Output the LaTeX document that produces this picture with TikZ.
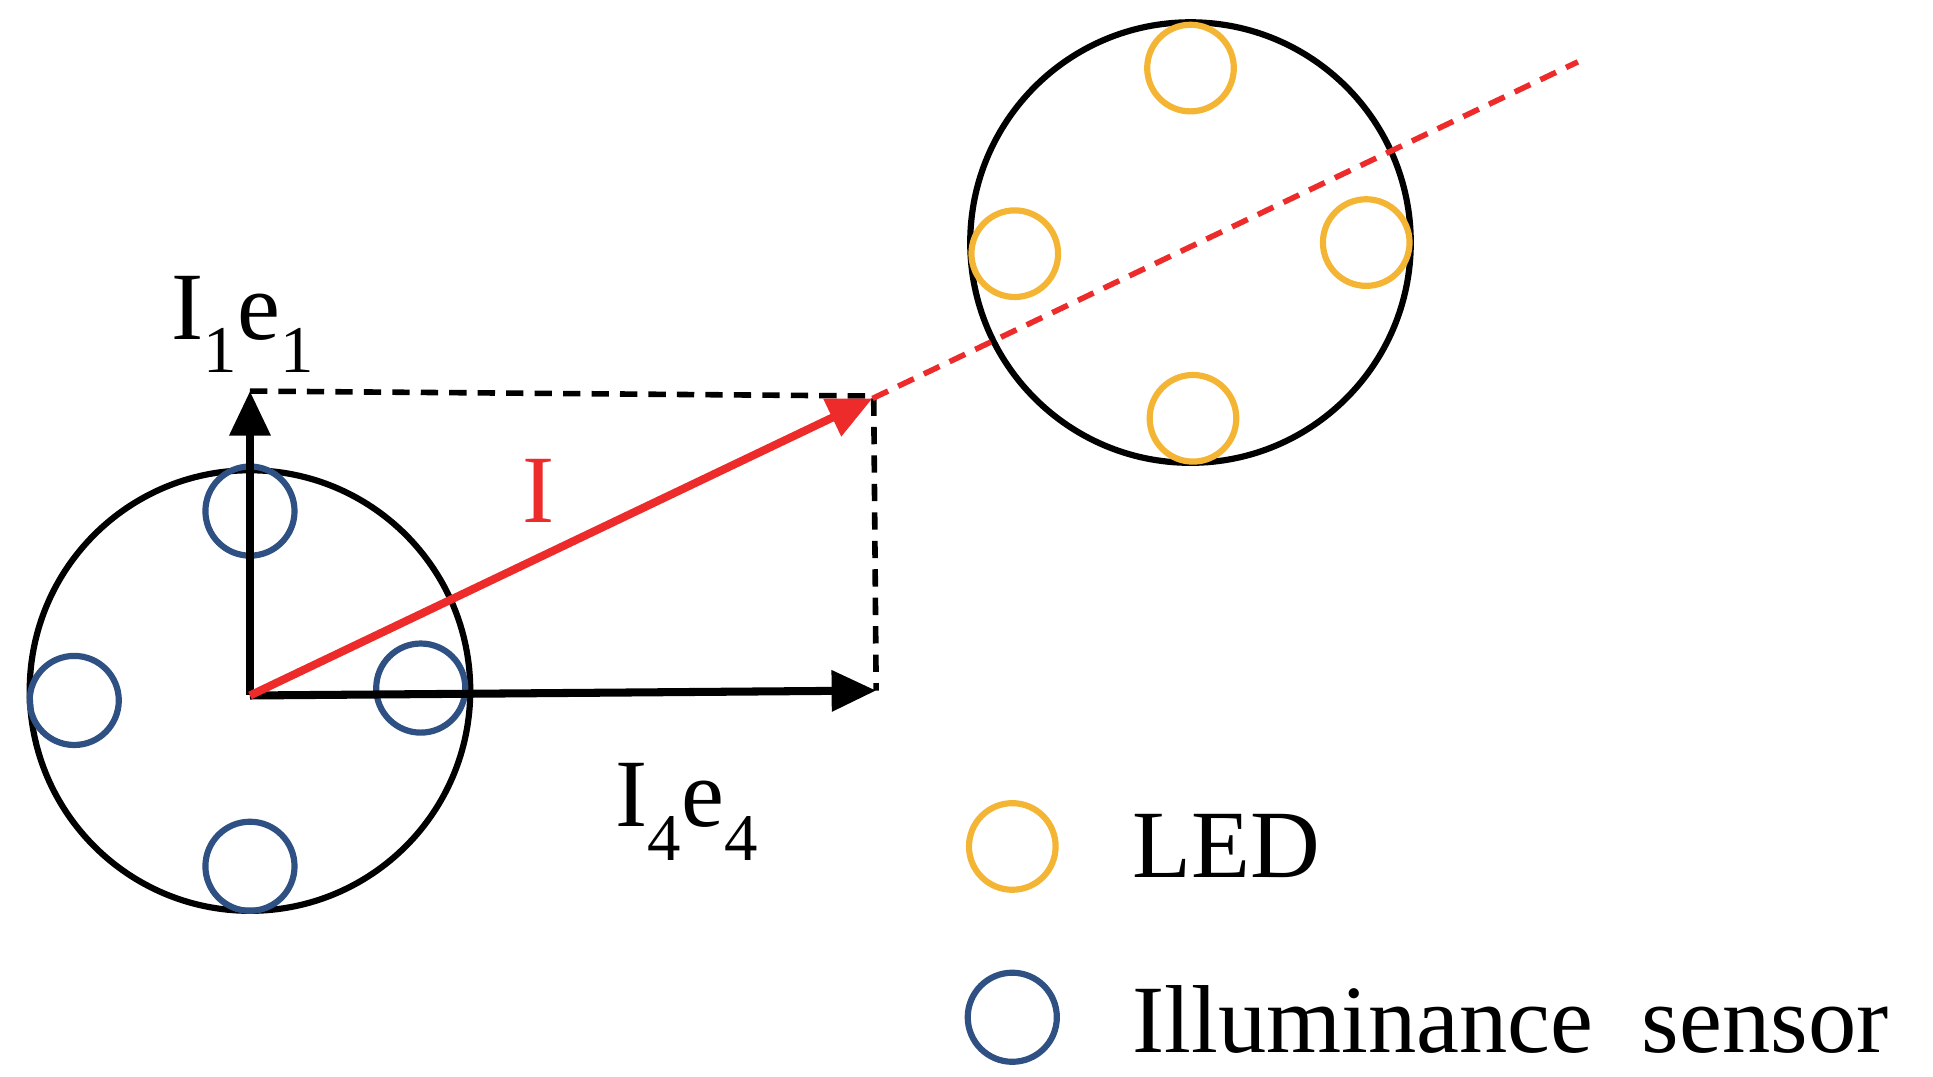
\documentclass[tikz,border=0pt]{standalone}
\usepackage{fontspec}
\setmainfont{Liberation Serif}
\usetikzlibrary{arrows.meta}
\definecolor{led}{HTML}{F4B534}
\definecolor{sen}{HTML}{2E5082}
\definecolor{vred}{HTML}{EE2B2B}
\begin{document}
\begin{tikzpicture}[x=1pt,y=-1pt,
  big/.style={circle,draw=black,line width=5pt,minimum size=356pt,inner sep=0pt},
  ledc/.style={circle,draw=led,line width=5pt,minimum size=70pt,inner sep=0pt},
  senc/.style={circle,draw=sen,line width=5pt,minimum size=72pt,inner sep=0pt},
  lbl/.style={font=\fontsize{78}{84}\selectfont,inner sep=0pt},
  vec/.style={line width=6.5pt,-{Triangle[length=36pt,width=32pt]}},
  dsh/.style={line width=4.5pt,dash pattern=on 14pt off 9pt}]
\useasboundingbox (0,0) rectangle (1562,870);
\node[big] (L) at (202,558) {};
\node[big] (R) at (962,196) {};
\node[senc] (s1) at (202,413) {};
\node[senc] (s2) at (60,566) {};
\node[senc] (s3) at (340,556) {};
\node[senc] (s4) at (202,700) {};
\node[ledc] (l1) at (962,55) {};
\node[ledc] (l2) at (820,205) {};
\node[ledc] (l3) at (1104,196) {};
\node[ledc] (l4) at (964,338) {};
\coordinate (O) at (202,562);
\coordinate (A) at (202,316);
\coordinate (B) at (708,558);
\coordinate (C) at (706,320);
\coordinate (P) at (705,322);
\coordinate (Q) at (1275,50);
\draw[dsh] (A) -- (C) -- (B);
\draw[dsh,draw=vred] (P) -- (Q);
\draw[vec] (O) -- (A);
\draw[vec] (O) -- (B);
\draw[vec,draw=vred,fill=vred] (O) -- (P);
\node[lbl] (t1) at (196,262) {I$_{\fontsize{54}{58}\selectfont\textrm{1}}$e$_{\fontsize{54}{58}\selectfont\textrm{1}}$};
\node[lbl,text=vred] (tI) at (435,397) {I};
\node[lbl] (t4) at (555,656) {I$_{\fontsize{54}{58}\selectfont\textrm{4}}$e$_{\fontsize{54}{58}\selectfont\textrm{4}}$};
\node[ledc] (kl) at (818,684) {};
\node[lbl,anchor=west] (kt1) at (915,684) {LED};
\node[senc] (ks) at (818,822) {};
\node[lbl,anchor=west] (kt2) at (915,824) {Illuminance\ \ sensor};
\end{tikzpicture}
\end{document}
